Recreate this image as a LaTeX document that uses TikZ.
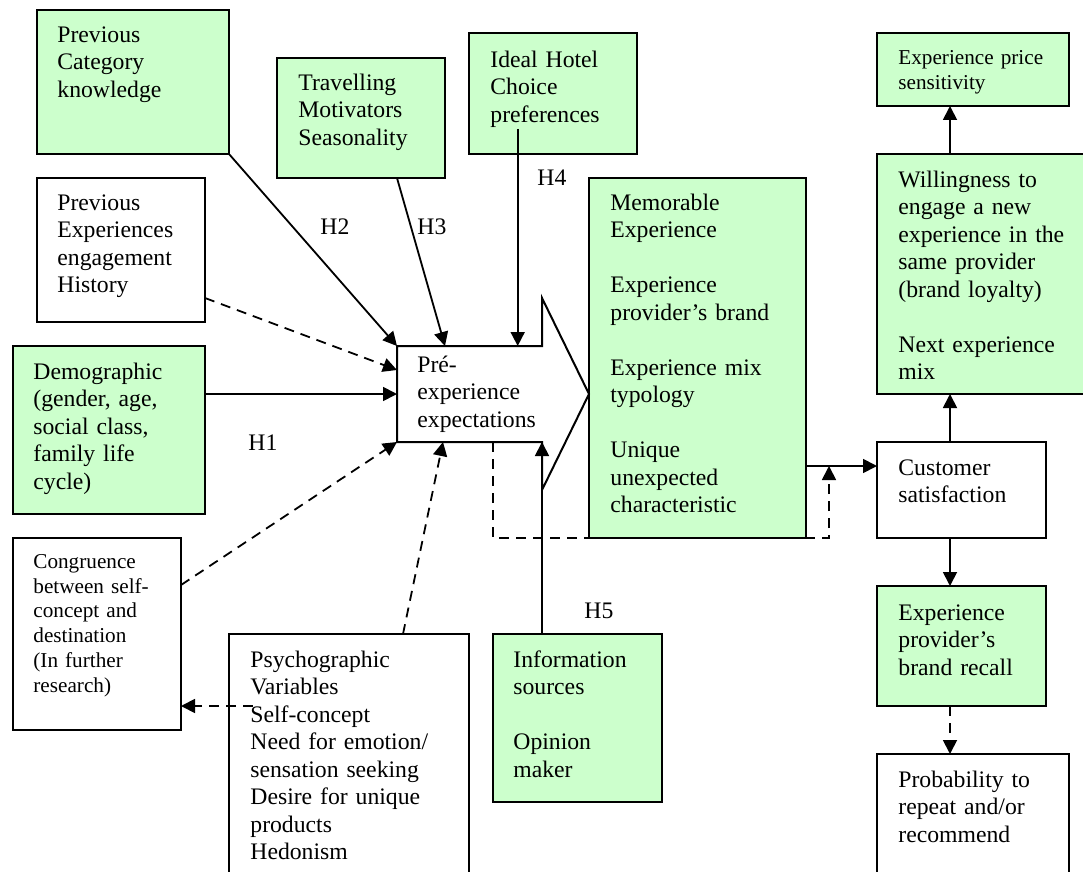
\documentclass[tikz,border=0pt]{standalone}
\usepackage{fontspec}
\setmainfont{Liberation Serif}
\usetikzlibrary{arrows.meta,fit,calc}
\definecolor{boxgreen}{RGB}{204,255,204}
\newcommand\gapline{\\[13.75pt]}
\begin{document}
\begin{tikzpicture}[x=0.5pt,y=-0.5pt,
  box/.style={draw, line width=1pt, inner sep=0pt, outer sep=0pt, rectangle},
  gbox/.style={box, fill=boxgreen},
  txt/.style={anchor=north west, inner sep=0pt, align=left, text width=160pt, font=\fontsize{11.85}{13.75}\selectfont},
  stxt/.style={txt, font=\fontsize{10.6}{12.4}\selectfont},
  lbl/.style={anchor=north west, inner sep=0pt, font=\fontsize{11.85}{13.75}\selectfont},
  arr/.style={line width=0.9pt, -{Triangle[length=7pt,width=7pt]}},
  darr/.style={arr, dash pattern=on 5pt off 3.5pt},
]
\useasboundingbox (0,0) rectangle (1083,872);
\clip (0,0) rectangle (1083,872);

% boxes
\node[gbox, fit={(37,10) (229,154)}] (b1) {};
\node[gbox, fit={(277,58) (445,178)}] (b2) {};
\node[gbox, fit={(469,33) (637,154)}] (b3) {};
\node[box, fit={(37,178) (205,322)}] (b4) {};
\node[gbox, fit={(13,346) (205,514)}] (b5) {};
\node[box, fit={(13,538) (181,730)}] (b6) {};
\node[box, fit={(229,634) (469,900)}] (b7) {};
\node[gbox, fit={(493,634) (662,802)}] (b8) {};
\node[gbox, fit={(589,178) (806,538)}] (b9) {};
\node[gbox, fit={(877,33) (1069,106)}] (b10) {};
\node[gbox, fit={(877,154) (1095,394)}] (b11) {};
\node[box, fit={(877,442) (1046,538)}] (b12) {};
\node[gbox, fit={(877,586) (1046,706)}] (b13) {};
\node[box, fit={(877,754) (1069,900)}] (b14) {};

% big arrow
\coordinate (aTL) at (397,346);
\coordinate (aN1) at (542,346);
\coordinate (aHT) at (542,298);
\coordinate (aTip) at (589,394);
\coordinate (aHB) at (542,490);
\coordinate (aN2) at (542,442);
\coordinate (aBL) at (397,442);
\draw[line width=1pt, fill=white] (aTL) -- (aN1) -- (aHT) -- (aTip) -- (aHB) -- (aN2) -- (aBL) -- cycle;

% texts
\node[txt] (t1) at (57,22.75) {\strut Previous\\Category\\knowledge};
\node[txt] (t2) at (298,70.75) {\strut Travelling\\Motivators\\Seasonality};
\node[txt] (t3) at (490,47.75) {\strut Ideal Hotel\\Choice\\preferences};
\node[txt] (t4) at (57,190.75) {\strut Previous\\Experiences\\engagement\\History};
\node[txt] (t5) at (33,359.75) {\strut Demographic\\(gender, age,\\social class,\\family life\\cycle)};
\node[stxt] (t6) at (33,550.6) {\strut Congruence\\between self-\\concept and\\destination\\(In further\\research)};
\node[txt] (t7) at (250,647.75) {\strut Psychographic\\Variables\\Self-concept\\Need for emotion/\\sensation seeking\\Desire for unique\\products\\Hedonism};
\node[txt] (t8) at (513,647.75) {\strut Information\\sources\gapline Opinion\\maker};
\node[txt] (t9) at (610,190.75) {\strut Memorable\\Experience\gapline Experience\\provider’s brand\gapline Experience mix\\typology\gapline Unique\\unexpected\\characteristic};
\node[txt] (tpre) at (417,352.75) {\strut Pré-\\experience\\expectations};
\node[stxt] (t10) at (898,46.6) {\strut Experience price\\sensitivity};
\node[txt] (t11) at (898,167.75) {\strut Willingness to\\engage a new\\experience in the\\same provider\\(brand loyalty)\gapline Next experience\\mix};
\node[txt] (t12) at (898,455.75) {\strut Customer\\satisfaction};
\node[txt] (t13) at (898,600.75) {\strut Experience\\provider’s\\brand recall};
\node[txt] (t14) at (898,767.75) {\strut Probability to\\repeat and/or\\recommend};

% hypothesis labels
\node[lbl] (h1) at (248,430.75) {\strut H1};
\node[lbl] (h2) at (320,214.75) {\strut H2};
\node[lbl] (h3) at (417,214.75) {\strut H3};
\node[lbl] (h4) at (537,165.75) {\strut H4};
\node[lbl] (h5) at (584,598.75) {\strut H5};

% connectors
\draw[arr] (b1.south east) -- (aTL);
\draw[arr] ([xshift=18pt]b2.south) -- (aTL -| b2.south east);
\coordinate (h4s) at ([shift={(-17.65pt,12.5pt)}]b3.south);
\draw[arr] (h4s) -- (h4s |- aTL);
\draw[darr] ([yshift=-24pt]b4.east) -- ([yshift=-12pt]aTL);
\coordinate (d5) at ([yshift=18pt]b5.east);
\draw[arr] (d5) -- (d5 -| aTL);
\draw[darr] ([yshift=24.5pt]b6.east) -- (aBL);
\draw[darr] ([xshift=27pt]b7.north) -- ([xshift=23pt]aBL);
\coordinate (i5) at (aN2 |- b8.north);
\draw[arr] (i5) -- (aN2);
\coordinate (la) at ([xshift=48pt]aBL);
\coordinate (lb) at ([xshift=11.5pt]b9.south east);
\coordinate (cs) at ([yshift=12pt]b12.west);
\draw[darr] (la) |- (lb) -- (lb |- cs);
\draw[arr] (cs -| b9.east) -- (cs);
\coordinate (vx) at ([xshift=-5.75pt]b12.north);
\draw[arr] (vx) -- (vx |- b11.south);
\draw[arr] (vx |- b11.north) -- (vx |- b10.south);
\draw[arr] (vx |- b12.south) -- (vx |- b13.north);
\draw[darr] (vx |- b13.south) -- (vx |- b14.north);
\coordinate (ps) at ([shift={(12pt,30.5pt)}]b7.west);
\draw[darr] (ps) -- (ps -| b6.east);
\end{tikzpicture}
\end{document}
